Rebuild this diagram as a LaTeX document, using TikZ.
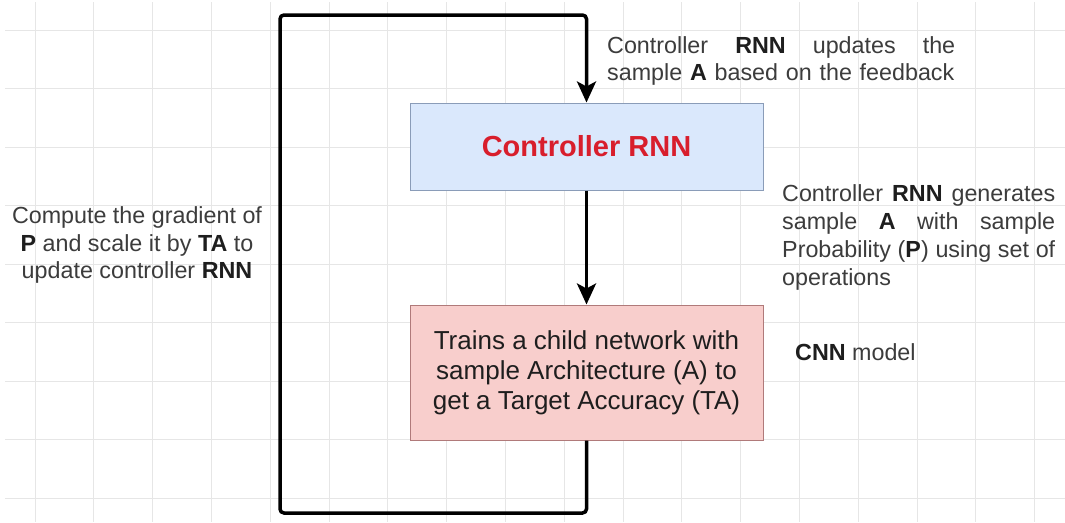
\documentclass[tikz,border=0pt]{standalone}
\usepackage{fontspec}
\setmainfont{Liberation Sans}
\usetikzlibrary{arrows.meta}
\definecolor{gridc}{HTML}{E6E6E6}
\definecolor{bluefill}{HTML}{DAE8FC}
\definecolor{bluedraw}{HTML}{8A9CB8}
\definecolor{pinkfill}{HTML}{F8CECC}
\definecolor{pinkdraw}{HTML}{B07A7A}
\definecolor{txt}{HTML}{3C3C3C}
\definecolor{boldtxt}{HTML}{1E1E1E}
\definecolor{rnnred}{HTML}{D81E2C}
\newcommand\bt[1]{\textbf{\color{boldtxt}#1}}
\newcommand\jline[2]{\leavevmode\hbox to #1{#2}}
\tikzset{
  gridline/.style={draw=gridc, line width=1pt},
  bluebox/.style={draw=bluedraw, fill=bluefill, line width=1pt, minimum width=353pt, minimum height=87pt, inner sep=0pt,
    font=\fontsize{29}{34}\selectfont\bfseries, text=rnnred},
  pinkbox/.style={draw=pinkdraw, fill=pinkfill, line width=1pt, minimum width=353pt, minimum height=135pt, inner sep=0pt,
    font=\fontsize{26}{30}\selectfont, text=boldtxt, align=center},
  lbl/.style={inner sep=0pt, font=\fontsize{23.3}{27.7}\selectfont, text=txt},
  flow/.style={draw=black, line width=3.5pt, rounded corners=4pt},
  tipend/.style={-{Stealth[length=21pt,width=19pt,inset=5pt]}}
}
\begin{document}
\begin{tikzpicture}[x=1pt,y=-1pt]
\useasboundingbox (0,0) rectangle (1065,522);
\fill[white] (0,0) rectangle (1065,522);
% grid
\foreach \i in {0,...,17} {\draw[gridline] ({35+\i*58.8},2) -- ({35+\i*58.8},522);}
\foreach \j in {0,...,8} {\draw[gridline] (5,{30+\j*58.5}) -- (1065,{30+\j*58.5});}
% boxes
\node[bluebox] (ctrl) at (586.5,146.5) {Controller RNN};
\node[pinkbox] (child) at (586.5,372.5) {Trains a child network with\\ sample Architecture (A) to\\ get a Target Accuracy (TA)};
% loop corners
\coordinate (bl) at (280,513);
\coordinate (tl) at (280,15);
% connectors
\draw[flow, tipend] (ctrl.south) -- (child.north);
\draw[flow, tipend] (child.south) |- (bl) -- (tl) -| (ctrl.north);
% labels
\node[lbl, anchor=west, text width=348pt, align=left] (upd) at (607,61)
  {\jline{348pt}{Controller\hfill\bt{RNN}\hfill updates\hfill the}\\ sample \bt{A} based on the feedback};
\node[lbl, anchor=west, text width=273pt, align=left] (gen) at (782,237.5)
  {\jline{273pt}{Controller\hfill\bt{RNN}\hfill generates}\\
   \jline{273pt}{sample\hfill\bt{A}\hfill with\hfill sample}\\
   \jline{273pt}{Probability\hfill(\bt{P})\hfill using\hfill set\hfill of}\\
   operations};
\node[lbl, align=center] (grad) at (137,245)
  {Compute the gradient of\\ \bt{P} and scale it by \bt{TA} to\\ update controller \bt{RNN}};
\node[lbl, anchor=west] (cnn) at (795,352) {\bt{CNN} model};
\end{tikzpicture}
\end{document}
